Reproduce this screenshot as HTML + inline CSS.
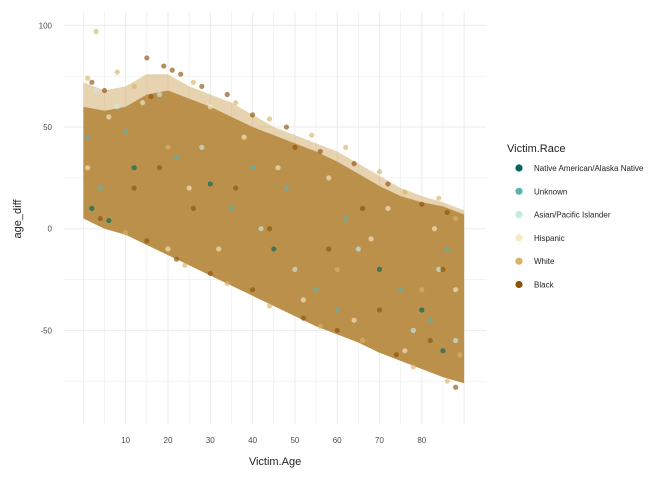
<!DOCTYPE html>
<html><head><meta charset="utf-8"><style>
body{margin:0;background:#fff;font-family:"Liberation Sans",sans-serif}
</style></head><body>
<svg id="chart" width="672" height="480" xmlns="http://www.w3.org/2000/svg">
<rect width="672" height="480" fill="#fff"/>
<g id="grid"></g><g id="cloud"></g><g id="pts"></g><g id="axes"></g><g id="legend"></g>
</svg>
<script>
const xTicks=[10,20,30,40,50,60,70,80];
const yTicks=[100,50,0,-50];
const bandAges=[0,5,10,15,20,25,30,35,40,45,50,55,60,65,70,75,80,85,90];
const bandUpper=[60,58,60,66,68,64,60,55,50,46,42,38,33,27,21,16,13,11,7];
const bandOuter=[72,68,70,76,76,70,66,62,56,50,46,42,38,32,26,20,16,13,9];
const bandLower=[5,0,-3,-8,-13,-18,-23,-28,-33,-38,-43,-48,-52,-56,-61,-65,-69,-73,-76];
const raceNames=["Native American/Alaska Native","Unknown","Asian/Pacific Islander","Hispanic","White","Black"];
const raceColors=["#01665e","#5ab4ac","#c7eae5","#f6e8c3","#d8b365","#8c510a"];
const ptsNative=[[2,10],[6,4],[12,30],[30,22],[45,-10],[70,-20],[80,-40],[85,-60]];
const ptsUnknown=[[1,45],[4,20],[10,48],[22,35],[35,10],[48,20],[55,-30],[62,5],[75,-30],[82,-45],[86,-10],[60,-40],[40,30]];
const ptsAsian=[[3,68],[8,60],[18,66],[28,40],[50,-20],[65,-10],[78,-50],[84,-20],[88,-55],[42,0]];
const ptsHispanic=[[1,30],[6,55],[14,62],[25,20],[32,-10],[38,45],[46,30],[52,-35],[58,25],[64,-45],[72,10],[76,-60],[83,0],[88,-30],[20,-10],[68,-5],[30,60]];
const ptsWhite=[[3,97],[8,77],[1,74],[12,70],[26,72],[36,62],[44,54],[54,46],[62,40],[70,28],[76,18],[84,15],[88,5],[10,-2],[24,-18],[34,-27],[44,-38],[56,-48],[66,-55],[78,-68],[86,-75],[89,-62],[20,40],[60,-20],[80,-30]];
const ptsBlack=[[15,84],[19,80],[21,78],[23,76],[2,72],[5,68],[16,65],[28,70],[34,66],[40,56],[48,50],[50,40],[56,38],[64,32],[72,22],[80,12],[86,8],[4,5],[15,-6],[22,-15],[30,-22],[40,-30],[52,-44],[60,-50],[74,-62],[88,-78],[18,30],[26,10],[36,20],[44,0],[58,-10],[70,-40],[82,-55],[12,20],[66,10],[85,-20]];
const raceSeries=[ptsNative,ptsUnknown,ptsAsian,ptsHispanic,ptsWhite,ptsBlack];
const NS="http://www.w3.org/2000/svg";
const X=a=>83.4+4.23*a, Y=v=>228.7-2.033*v;
function mk(tag,attrs,parent,txt){const e=document.createElementNS(NS,tag);for(const k in attrs)e.setAttribute(k,attrs[k]);if(txt!==undefined)e.textContent=txt;parent.appendChild(e);return e;}
const grid=document.getElementById('grid');
for(let a=0;a<=90;a+=5){const l=mk('line',{x1:X(a),x2:X(a),y1:12,y2:424,stroke:'#ebebeb','stroke-width':a%10===0&&a>0?1:0.6},grid);

}
for(let v=-75;v<=100;v+=25){const l=mk('line',{x1:64,x2:486,y1:Y(v),y2:Y(v),stroke:'#ebebeb','stroke-width':v%50===0?1:0.6},grid);

}
const cloud=document.getElementById('cloud');
function poly(up,col,op,name){let d='';bandAges.forEach((a,i)=>{d+=(i?'L':'M')+X(a)+','+Y(up[i]);});for(let i=bandAges.length-1;i>=0;i--)d+='L'+X(bandAges[i])+','+Y(bandLower[i]);d+='Z';
const p=mk('path',{d:d,fill:col,'fill-opacity':op},cloud);

}
poly(bandOuter,'#cfa862',0.5,'point-cloud-fringe');
poly(bandUpper,'#b88c46',0.95,'point-cloud-dense');
const pts=document.getElementById('pts');
raceSeries.forEach((s,ri)=>{s.forEach(p=>{const c=mk('circle',{cx:X(p[0]),cy:Y(p[1]),r:2.6,fill:raceColors[ri],'fill-opacity':0.65},pts);

});});
const ax=document.getElementById('axes');
xTicks.forEach(t=>{const e=mk('text',{x:X(t),y:443,'text-anchor':'middle','font-size':8,fill:'#4d4d4d'},ax,t);

});
yTicks.forEach(t=>{const e=mk('text',{x:52,y:Y(t)+3,'text-anchor':'end','font-size':8,fill:'#4d4d4d'},ax,t);

});
const xt=mk('text',{x:275,y:465,'text-anchor':'middle','font-size':11,fill:'#222'},ax,'Victim.Age');


const yt=mk('text',{x:0,y:0,transform:'translate(21,219) rotate(-90)','text-anchor':'middle','font-size':11,fill:'#222'},ax,'age_diff');


const lg=document.getElementById('legend');
const lt=mk('text',{x:507,y:152,'font-size':11,fill:'#222'},lg,'Victim.Race');


raceNames.forEach((n,i)=>{const y=168+i*23.3;
const c=mk('circle',{cx:519,cy:y,r:3.6,fill:raceColors[i]},lg);


const t=mk('text',{x:534,y:y+3,'font-size':8,fill:'#222'},lg,n);

});
</script>
</body></html>
